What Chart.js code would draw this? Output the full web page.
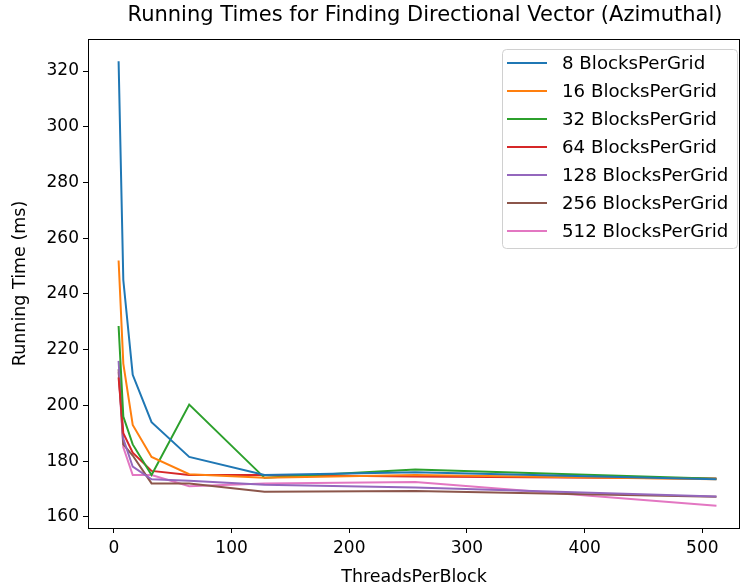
<!DOCTYPE html>
<html>
<head>
<meta charset="utf-8">
<script src="https://cdn.jsdelivr.net/npm/chart.js@4.4.1/dist/chart.umd.min.js"></script>
<style>
  html, body { margin: 0; padding: 0; background: #fff; }
  #wrap { width: 740px; height: 588px; }
</style>
</head>
<body>
<div id="wrap"><canvas id="myChart"></canvas></div>
<script>
const threads = [4, 8, 16, 32, 64, 128, 256, 512];
const labels = ['8 BlocksPerGrid', '16 BlocksPerGrid', '32 BlocksPerGrid', '64 BlocksPerGrid',
  '128 BlocksPerGrid', '256 BlocksPerGrid', '512 BlocksPerGrid'];
const colors = ['#1f77b4', '#ff7f0e', '#2ca02c', '#d62728', '#9467bd', '#8c564b', '#e377c2'];

const t8   = [323.5, 245, 211, 194, 181.5, 175, 176, 173.5];
const t16  = [252, 215, 193, 181.5, 175.3, 174, 175, 173.5];
const t32  = [228.5, 196, 186, 175, 200.3, 174, 177, 173.7];
const t64  = [210, 190, 183, 176.5, 175, 175, 174.5, 173.8];
const t128 = [216, 188, 178, 173.5, 173, 171.5, 170.5, 167.3];
const t256 = [213, 186, 182, 172, 172, 169, 169.3, 167.2];
const t512 = [212, 185, 175, 175, 171, 172, 172.5, 164];
const series = [t8, t16, t32, t64, t128, t256, t512];

const xTicks = [0, 100, 200, 300, 400, 500];
const yTicks = [160, 180, 200, 220, 240, 260, 280, 300, 320];

const title = 'Running Times for Finding Directional Vector (Azimuthal)';
const font = "'DejaVu Sans', sans-serif";

// frame around the plot, title over the axes, boxed legend in the upper right
const framePlugin = {
  id: 'frame',
  afterDraw(chart) {
    const {ctx, chartArea: a} = chart;
    ctx.save();
    ctx.strokeStyle = '#000';
    ctx.lineWidth = 1;
    ctx.strokeRect(a.left + 0.5, a.top + 0.5, a.right - a.left - 1, a.bottom - a.top);

    ctx.fillStyle = '#000';
    ctx.font = '21px ' + font;
    ctx.textAlign = 'center';
    ctx.textBaseline = 'middle';
    ctx.fillText(title, 425, 16);

    const bx = 502, by = 49, bw = 235, bh = 199;
    ctx.beginPath();
    ctx.roundRect(bx + 0.5, by + 0.5, bw, bh, 4);
    ctx.fillStyle = 'rgba(255,255,255,0.8)';
    ctx.fill();
    ctx.strokeStyle = '#d0d0d0';
    ctx.stroke();

    ctx.font = '18.2px ' + font;
    ctx.textAlign = 'left';
    ctx.fillStyle = '#000';
    labels.forEach((lab, i) => {
      const y = 63 + i * 28;
      ctx.beginPath();
      ctx.moveTo(507, y);
      ctx.lineTo(547, y);
      ctx.strokeStyle = colors[i];
      ctx.lineWidth = 2;
      ctx.stroke();
      ctx.fillText(lab, 562, y + 1);
    });
    ctx.restore();
  }
};

new Chart(document.getElementById('myChart'), {
  type: 'line',
  data: {
    datasets: series.map((s, i) => ({
      label: labels[i],
      data: threads.map((x, j) => ({x: x, y: s[j]})),
      borderColor: colors[i],
      backgroundColor: colors[i],
      borderWidth: 2,
      pointRadius: 0,
      fill: false,
      tension: 0
    }))
  },
  options: {
    responsive: true,
    maintainAspectRatio: false,
    animation: false,
    layout: { padding: { left: 0, right: 0, top: 39, bottom: 0 } },
    scales: {
      x: {
        type: 'linear',
        min: -22,
        max: 532,
        afterFit(scale) { scale.height = 60; },
        afterBuildTicks(scale) { scale.ticks = xTicks.map(v => ({value: v})); },
        border: { display: true, color: '#000', width: 1 },
        grid: { drawOnChartArea: false, drawTicks: true, tickLength: 5, color: '#000' },
        ticks: {
          color: '#000',
          padding: 5,
          maxRotation: 0,
          autoSkip: false,
          font: { family: font, size: 17 }
        },
        title: {
          display: true,
          text: 'ThreadsPerBlock',
          color: '#000',
          font: { family: font, size: 17.5 },
          padding: { top: 0, bottom: 0.5 }
        }
      },
      y: {
        min: 156,
        max: 331.5,
        afterFit(scale) { scale.width = 88; },
        afterBuildTicks(scale) { scale.ticks = yTicks.map(v => ({value: v})); },
        border: { display: true, color: '#000', width: 1 },
        grid: { drawOnChartArea: false, drawTicks: true, tickLength: 5, color: '#000' },
        ticks: {
          color: '#000',
          padding: 4,
          autoSkip: false,
          font: { family: font, size: 17 }
        },
        title: {
          display: true,
          text: 'Running Time (ms)',
          color: '#000',
          font: { family: font, size: 17.5 },
          padding: { top: 9.5, bottom: 0 }
        }
      }
    },
    plugins: {
      legend: { display: false },
      tooltip: { enabled: false },
      title: { display: false }
    }
  },
  plugins: [framePlugin]
});
</script>
</body>
</html>
